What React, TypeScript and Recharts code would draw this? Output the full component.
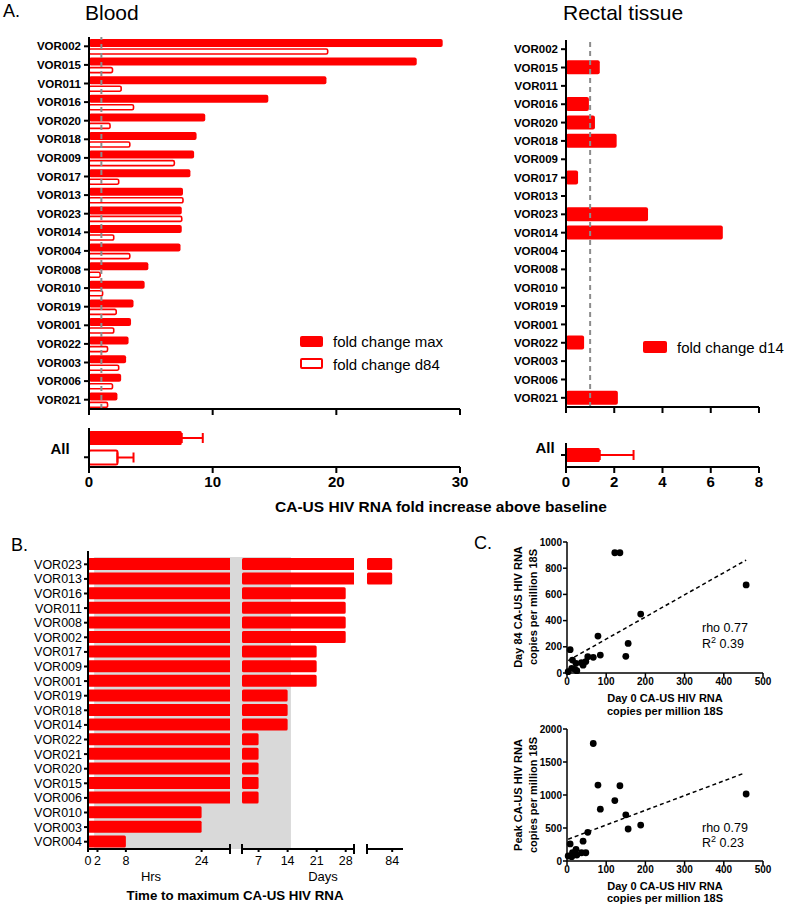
import React from "react";
import {
  BarChart,
  Bar,
  XAxis,
  YAxis,
  Cell,
  ErrorBar,
  ReferenceLine,
  ReferenceArea,
  ScatterChart,
  Scatter,
} from "recharts";

const FONT = "'Liberation Sans', Arial, Helvetica, sans-serif";
const RED = "#ff0000";

// ---- Panel A: fold change above baseline ----
const participantsA = [
  "VOR002", "VOR015", "VOR011", "VOR016", "VOR020", "VOR018", "VOR009", "VOR017", "VOR013", "VOR023",
  "VOR014", "VOR004", "VOR008", "VOR010", "VOR019", "VOR001", "VOR022", "VOR003", "VOR006", "VOR021",
];
const bloodFoldMax = [28.6, 26.5, 19.2, 14.5, 9.4, 8.7, 8.5, 8.2, 7.6, 7.5, 7.5, 7.4, 4.8, 4.5, 3.6, 3.4, 3.2, 3.0, 2.6, 2.3];
const bloodFoldD84 = [19.3, 1.9, 2.6, 3.6, 1.7, 3.3, 6.9, 2.4, 7.6, 7.5, 2.0, 3.3, 0.9, 1.1, 2.2, 2.0, 1.5, 2.4, 1.9, 1.5];
const rectalFoldD14 = [null, 1.4, null, 0.95, 1.2, 2.1, null, 0.5, null, 3.4, 6.5, null, null, null, null, null, 0.75, null, null, 2.15];
const allGroups = ["fold change max", "fold change d84"];
const bloodAllMean = [7.5, 2.3];
const bloodAllErr = [1.7, 1.3];
const rectalAllGroups = ["fold change d14"];
const rectalAllMean = [1.4];
const rectalAllErr = [1.4];
const bloodTicks = [0, 10, 20, 30];
const rectalTicks = [0, 2, 4, 6, 8];

// ---- Panel B: time to maximum ----
const participantsB = [
  "VOR023", "VOR013", "VOR016", "VOR011", "VOR008", "VOR002", "VOR017", "VOR009", "VOR001", "VOR019",
  "VOR018", "VOR014", "VOR022", "VOR021", "VOR020", "VOR015", "VOR006", "VOR010", "VOR003", "VOR004",
];
const peakDay = [84, 84, 28, 28, 28, 28, 21, 21, 21, 14, 14, 14, 7, 7, 7, 7, 7, null, null, null];
const peakHour = [null, null, null, null, null, null, null, null, null, null, null, null, null, null, null, null, null, 24, 24, 8];
const hourTicks = [0, 2, 8, 24, 30];
const dayTicks = [3, 7, 14, 21, 28, 30];
const lateTicks = [77, 84];

// ---- Panel C: correlations with day 0 ----
const day0 = [3, 8, 12, 14, 20, 23, 25, 37, 41, 48, 53, 67, 79, 85, 122, 135, 150, 156, 188, 457];
const day84 = [10, 178, 36, 99, 28, 74, 18, 79, 60, 87, 125, 120, 282, 137, 918, 918, 127, 226, 450, 672];
const peakValue = [76, 258, 65, 125, 106, 177, 90, 125, 300, 125, 435, 1780, 1150, 785, 915, 1140, 700, 485, 545, 1015];
const fitD84 = [{ x: 3, y: 95 }, { x: 457, y: 862 }];
const fitPeak = [{ x: 3, y: 330 }, { x: 452, y: 1330 }];
const day0Ticks = [0, 100, 200, 300, 400, 500];
const d84Ticks = [0, 200, 400, 600, 800, 1000];
const peakTicks = [0, 500, 1000, 1500, 2000];

const bloodRows = participantsA.map((name, i) => ({ name, max: bloodFoldMax[i], d84: bloodFoldD84[i] }));
const rectalRows = participantsA.map((name, i) => ({ name, d14: rectalFoldD14[i] }));
const bloodAllRows = allGroups.map((name, i) => ({ name, mean: bloodAllMean[i], err: [0, bloodAllErr[i]] }));
const rectalAllRows = rectalAllGroups.map((name, i) => ({ name, mean: rectalAllMean[i], err: [0, rectalAllErr[i]] }));
const timeRows = participantsB.map((name, i) => {
  const d = peakDay[i];
  return {
    name,
    hrs: peakHour[i] ?? (d as number) * 24,
    days: d,
    late: d != null && d > 30 ? d : null,
  };
});
const d84Points = day0.map((x, i) => ({ x, y: day84[i] }));
const peakPoints = day0.map((x, i) => ({ x, y: peakValue[i] }));

const heavy = { stroke: "#000", strokeWidth: 2 };
const thin = { stroke: "#000", strokeWidth: 1.5 };
const noTick = () => <g />;
const catTick = { fontSize: 11.5, fontWeight: 700, fill: "#000", fontFamily: FONT };
const numTick = { fontSize: 15, fontWeight: 700, fill: "#000", fontFamily: FONT };
const scTick = { fontSize: 10, fontWeight: 700, fill: "#000", fontFamily: FONT };

// broken axis: segment ends get a cap instead of a label
const B_TICK = 3;
const B_MARGIN = 4;
function segmentTick(caps: number[]) {
  return (props: any) => {
    const { x, y, payload } = props;
    const axisY = y - B_TICK - B_MARGIN;
    if (caps.includes(payload.value)) {
      return <line x1={x} x2={x} y1={axisY - 5} y2={axisY + 5} stroke="#000" strokeWidth={2} />;
    }
    return (
      <text x={x} y={y} dy="0.71em" textAnchor="middle" fontSize={12.5} fontFamily={FONT} fill="#000">
        {payload.value}
      </text>
    );
  };
}

const dot = (props: any) => <circle cx={props.cx} cy={props.cy} r={3.4} fill="#000" />;

function Txt({ x, y, size, bold, anchor, children }: any) {
  return (
    <div
      style={{
        position: "absolute",
        left: x,
        top: y,
        fontSize: size,
        fontWeight: bold ? 700 : 400,
        lineHeight: 1,
        whiteSpace: "nowrap",
        transform: `translate(${anchor === "middle" ? "-50%" : "0"}, -50%)`,
      }}
    >
      {children}
    </div>
  );
}

function VTitle({ x, y, lines }: { x: number; y: number; lines: string[] }) {
  return (
    <div
      style={{
        position: "absolute",
        left: x,
        top: y,
        fontSize: 11,
        fontWeight: 700,
        lineHeight: "15px",
        textAlign: "center",
        whiteSpace: "nowrap",
        transform: "translate(-50%, -50%) rotate(-90deg)",
      }}
    >
      {lines.map((l) => (
        <div key={l}>{l}</div>
      ))}
    </div>
  );
}

const at = (left: number, top: number): React.CSSProperties => ({ position: "absolute", left, top });

export default function App() {
  return (
    <div
      style={{
        position: "absolute",
        left: 0,
        top: 0,
        width: 796,
        height: 908,
        background: "#fff",
        color: "#000",
        fontFamily: FONT,
        overflow: "hidden",
      }}
    >
      {/* Panel A titles */}
      <Txt x={3} y={11} size={18}>A.</Txt>
      <Txt x={85} y={12} size={21}>Blood</Txt>
      <Txt x={563} y={12} size={21}>Rectal tissue</Txt>

      {/* Blood, per participant */}
      <div style={at(0, 0)}>
        <BarChart width={475} height={420} data={bloodRows} layout="vertical" barGap={2}
          margin={{ top: 37, right: 15, bottom: 0, left: 0 }}>
          <XAxis type="number" domain={[0, 30]} ticks={bloodTicks} tick={noTick} height={11}
            tickSize={6} axisLine={heavy} tickLine={heavy} />
          <YAxis type="category" dataKey="name" width={89} interval={0} tick={catTick}
            tickSize={5} tickMargin={3} axisLine={heavy} tickLine={heavy} />
          <Bar dataKey="max" fill={RED} barSize={8} radius={2} isAnimationActive={false} />
          <Bar dataKey="d84" fill="#fff" stroke={RED} strokeWidth={1.6} barSize={5} radius={1.5}
            isAnimationActive={false} />
          <ReferenceLine x={1} stroke="#8c8c8c" strokeDasharray="5 4" strokeWidth={2} />
        </BarChart>
      </div>

      {/* Blood, all participants */}
      <div style={at(0, 420)}>
        <BarChart width={475} height={77} data={bloodAllRows} layout="vertical"
          margin={{ top: 8, right: 15, bottom: 0, left: 0 }}>
          <XAxis type="number" domain={[0, 30]} ticks={bloodTicks} tick={numTick} height={30}
            interval={0} tickSize={6} tickMargin={3} axisLine={heavy} tickLine={heavy} />
          <YAxis type="category" dataKey="name" width={89} tick={noTick} tickSize={5}
            axisLine={heavy} tickLine={heavy} />
          <Bar dataKey="mean" barSize={14} radius={1.5} isAnimationActive={false}>
            <Cell fill={RED} />
            <Cell fill="#fff" stroke={RED} strokeWidth={2} />
            <ErrorBar dataKey="err" direction="x" width={5} stroke={RED} strokeWidth={2} />
          </Bar>
        </BarChart>
      </div>
      <Txt x={60} y={448} size={15} bold anchor="middle">All</Txt>

      {/* Blood legend */}
      <div style={{ ...at(300, 336), width: 23, height: 11, background: RED, borderRadius: 2 }} />
      <Txt x={333} y={341} size={15}>fold change max</Txt>
      <div style={{ ...at(300, 358), width: 23, height: 11, boxSizing: "border-box", border: `2px solid ${RED}`, borderRadius: 2 }} />
      <Txt x={333} y={364} size={15}>fold change d84</Txt>

      {/* Rectal tissue, per participant */}
      <div style={at(480, 0)}>
        <BarChart width={290} height={418} data={rectalRows} layout="vertical"
          margin={{ top: 40, right: 11, bottom: 0, left: 0 }}>
          <XAxis type="number" domain={[0, 8]} ticks={rectalTicks} tick={noTick} height={11}
            tickSize={6} axisLine={heavy} tickLine={heavy} />
          <YAxis type="category" dataKey="name" width={86} interval={0} tick={catTick}
            tickSize={5} tickMargin={3} axisLine={heavy} tickLine={heavy} />
          <Bar dataKey="d14" fill={RED} barSize={14} radius={2} isAnimationActive={false} />
          <ReferenceLine x={1} stroke="#8c8c8c" strokeDasharray="5 4" strokeWidth={2} />
        </BarChart>
      </div>

      {/* Rectal tissue, all participants */}
      <div style={at(480, 430)}>
        <BarChart width={290} height={67} data={rectalAllRows} layout="vertical"
          margin={{ top: 13, right: 11, bottom: 0, left: 0 }}>
          <XAxis type="number" domain={[0, 8]} ticks={rectalTicks} tick={numTick} height={30}
            interval={0} tickSize={6} tickMargin={3} axisLine={heavy} tickLine={heavy} />
          <YAxis type="category" dataKey="name" width={86} tick={noTick} tickSize={5}
            axisLine={heavy} tickLine={heavy} />
          <Bar dataKey="mean" fill={RED} barSize={14} radius={1.5} isAnimationActive={false}>
            <ErrorBar dataKey="err" direction="x" width={5} stroke={RED} strokeWidth={2} />
          </Bar>
        </BarChart>
      </div>
      <Txt x={545} y={447} size={15} bold anchor="middle">All</Txt>

      {/* Rectal legend */}
      <div style={{ ...at(643, 341), width: 24, height: 12, background: RED, borderRadius: 2 }} />
      <Txt x={677} y={347} size={15}>fold change d14</Txt>

      <Txt x={441} y={507} size={15.5} bold anchor="middle">CA-US HIV RNA fold increase above baseline</Txt>

      {/* Panel B */}
      <Txt x={11} y={545} size={18}>B.</Txt>

      <div style={at(0, 545)}>
        <BarChart width={245} height={326} data={timeRows} layout="vertical"
          margin={{ top: 6, right: 15, bottom: 0, left: 0 }}>
          <XAxis type="number" domain={[0, 30]} ticks={hourTicks} allowDataOverflow height={22} interval={0}
            tick={segmentTick([30])} tickSize={B_TICK} tickMargin={B_MARGIN} axisLine={heavy} tickLine={heavy} />
          <YAxis type="category" dataKey="name" width={88} interval={0} padding={{ top: 6, bottom: 0 }}
            tick={{ fontSize: 12.5, fill: "#000", fontFamily: FONT }} tickSize={4} tickMargin={2}
            axisLine={heavy} tickLine={heavy} />
          <ReferenceArea x1={1.3} x2={32.55} ifOverflow="visible" fill="#d9d9d9" fillOpacity={1} stroke="none" />
          <Bar dataKey="hrs" fill={RED} barSize={12} radius={1.5} isAnimationActive={false} />
        </BarChart>
      </div>

      <div style={at(232, 545)}>
        <BarChart width={132} height={326} data={timeRows} layout="vertical"
          margin={{ top: 6, right: 10, bottom: 0, left: 10 }}>
          <XAxis type="number" domain={[3, 30]} ticks={dayTicks} allowDataOverflow height={22} interval={0}
            tick={segmentTick([3, 30])} tickSize={B_TICK} tickMargin={B_MARGIN} axisLine={heavy} tickLine={heavy} />
          <YAxis type="category" dataKey="name" hide padding={{ top: 6, bottom: 0 }} />
          <ReferenceArea x1={3} x2={14.8} ifOverflow="visible" fill="#d9d9d9" fillOpacity={1} stroke="none" />
          <Bar dataKey="days" fill={RED} barSize={12} radius={1.5} isAnimationActive={false} />
        </BarChart>
      </div>

      <div style={at(357, 545)}>
        <BarChart width={56} height={326} data={timeRows} layout="vertical"
          margin={{ top: 6, right: 10, bottom: 0, left: 10 }}>
          <XAxis type="number" domain={[77, 87]} ticks={lateTicks} allowDataOverflow height={22} interval={0}
            tick={segmentTick([77])} tickSize={B_TICK} tickMargin={B_MARGIN} axisLine={heavy} tickLine={heavy} />
          <YAxis type="category" dataKey="name" hide padding={{ top: 6, bottom: 0 }} />
          <Bar dataKey="late" fill={RED} barSize={12} radius={1.5} isAnimationActive={false} />
        </BarChart>
      </div>

      <Txt x={151} y={876} size={13} anchor="middle">Hrs</Txt>
      <Txt x={323} y={876} size={13} anchor="middle">Days</Txt>
      <Txt x={235} y={896} size={13.3} bold anchor="middle">Time to maximum CA-US HIV RNA</Txt>

      {/* Panel C */}
      <Txt x={474} y={543} size={18}>C.</Txt>

      <div style={at(440, 530)}>
        <ScatterChart width={340} height={160} margin={{ top: 12, right: 17, bottom: 0, left: 0 }}>
          <XAxis type="number" dataKey="x" domain={[0, 500]} ticks={day0Ticks} height={17} interval={0}
            tick={scTick} tickSize={4} tickMargin={1} axisLine={thin} tickLine={thin} />
          <YAxis type="number" dataKey="y" domain={[0, 1000]} ticks={d84Ticks} width={127} interval={0}
            tick={scTick} tickSize={4} tickMargin={1} axisLine={thin} tickLine={thin} />
          <ReferenceLine segment={fitD84} stroke="#000" strokeDasharray="4 3" strokeWidth={1.5} />
          <Scatter data={d84Points} fill="#000" shape={dot} isAnimationActive={false} />
        </ScatterChart>
      </div>
      <VTitle x={526} y={607} lines={["Day 84 CA-US HIV RNA", "copies per million 18S"]} />
      <Txt x={665} y={698} size={11} bold anchor="middle">Day 0 CA-US HIV RNA</Txt>
      <Txt x={665} y={711} size={11} bold anchor="middle">copies per million 18S</Txt>
      <Txt x={702} y={628} size={12.5}>rho 0.77</Txt>
      <Txt x={702} y={644} size={12.5}>
        R<span style={{ fontSize: 9, verticalAlign: "super", lineHeight: 0 }}>2</span> 0.39
      </Txt>

      <div style={at(440, 717)}>
        <ScatterChart width={340} height={161} margin={{ top: 12, right: 17, bottom: 0, left: 0 }}>
          <XAxis type="number" dataKey="x" domain={[0, 500]} ticks={day0Ticks} height={17} interval={0}
            tick={scTick} tickSize={4} tickMargin={1} axisLine={thin} tickLine={thin} />
          <YAxis type="number" dataKey="y" domain={[0, 2000]} ticks={peakTicks} width={127} interval={0}
            tick={scTick} tickSize={4} tickMargin={1} axisLine={thin} tickLine={thin} />
          <ReferenceLine segment={fitPeak} stroke="#000" strokeDasharray="4 3" strokeWidth={1.5} />
          <Scatter data={peakPoints} fill="#000" shape={dot} isAnimationActive={false} />
        </ScatterChart>
      </div>
      <VTitle x={526} y={795} lines={["Peak CA-US HIV RNA", "copies per million 18S"]} />
      <Txt x={665} y={886} size={11} bold anchor="middle">Day 0 CA-US HIV RNA</Txt>
      <Txt x={665} y={898} size={11} bold anchor="middle">copies per million 18S</Txt>
      <Txt x={702} y={828} size={12.5}>rho 0.79</Txt>
      <Txt x={702} y={843} size={12.5}>
        R<span style={{ fontSize: 9, verticalAlign: "super", lineHeight: 0 }}>2</span> 0.23
      </Txt>
    </div>
  );
}
